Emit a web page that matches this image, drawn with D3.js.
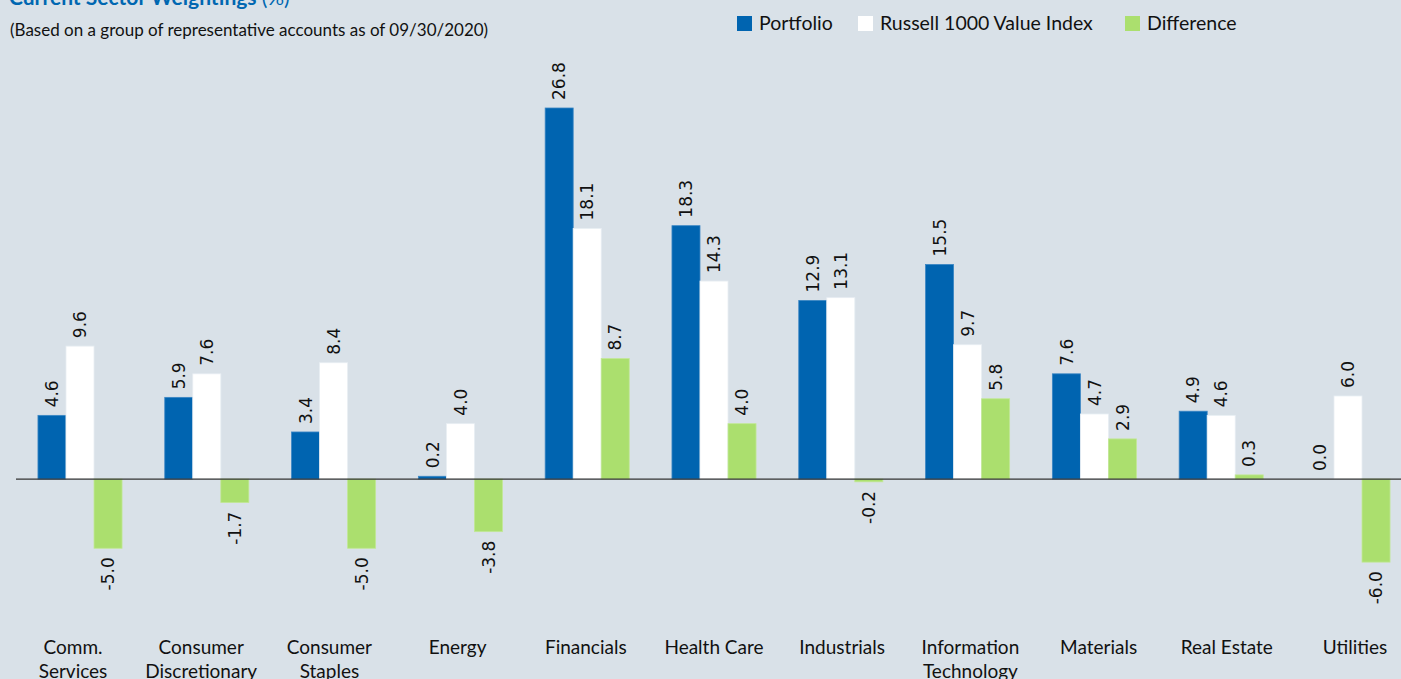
<!DOCTYPE html>
<html>
<head>
<meta charset="utf-8">
<script src="https://cdn.jsdelivr.net/npm/d3@7"></script>
<style>
  html, body { margin: 0; padding: 0; background: #d9e1e8; overflow: hidden; }
</style>
</head>
<body>
<div class="chart"></div>
<script>
// sector names, one entry per group (line breaks with \n)
const sectors = ["Comm.\nServices", "Consumer\nDiscretionary", "Consumer\nStaples", "Energy", "Financials",
    "Health Care", "Industrials", "Information\nTechnology", "Materials", "Real Estate", "Utilities"];
const portfolio = [4.6, 5.9, 3.4, 0.2, 26.8, 18.3, 12.9, 15.5, 7.6, 4.9, 0.0];
const russell = [9.6, 7.6, 8.4, 4.0, 18.1, 14.3, 13.1, 9.7, 4.7, 4.6, 6.0];
const difference = [-5.0, -1.7, -5.0, -3.8, 8.7, 4.0, -0.2, 5.8, 2.9, 0.3, -6.0];
const seriesNames = ["Portfolio", "Russell 1000 Value Index", "Difference"];

const createChart = () => {
    const width = 1401, height = 679;
    const colours = ["#0064b0", "#ffffff", "#abdf6e"];
    const strokes = ["#3a86c4", "#e8eef3", "#c2e896"];
    const labelFont = "'DejaVu Sans', sans-serif";
    const textFont = "Lato, 'Open Sans', sans-serif";

    const svg = d3.select(".chart").append("svg")
        .attr("width", width)
        .attr("height", height);

    //groups along x, one band per sector
    const x = d3.scaleBand()
        .domain(d3.range(sectors.length))
        .range([16.6, 1411.4])
        .paddingInner(0.337)
        .paddingOuter(0.1685);

    //category labels sit on a slightly wider axis than the bars
    const xLabel = d3.scaleBand()
        .domain(d3.range(sectors.length))
        .range([8.9, 1419.1]);

    const xSub = d3.scaleBand()
        .domain(d3.range(seriesNames.length))
        .range([0, x.bandwidth()]);

    const y = d3.scaleLinear()
        .domain([-10, 26.8])
        .range([617.5, 108]);

    const rows = sectors.map((s, i) => ({ i: i, values: [portfolio[i], russell[i], difference[i]] }));

    const group = svg.selectAll("g.sector")
        .data(rows).enter()
        .append("g")
        .attr("class", "sector")
        .attr("transform", d => `translate(${x(d.i)},0)`);

    const cells = group.selectAll("g.cell")
        .data(d => d.values.map((v, k) => ({ v: v, k: k })))
        .enter().append("g")
        .attr("class", "cell");

    cells.append("rect")
        .attr("x", d => xSub(d.k))
        .attr("width", xSub.bandwidth())
        .attr("y", d => y(Math.max(0, d.v)))
        .attr("height", d => Math.abs(y(d.v) - y(0)))
        .attr("fill", d => colours[d.k])
        .attr("stroke", d => d.v === 0 ? "none" : strokes[d.k])
        .attr("stroke-width", 0.8);

    //rotated value labels
    cells.append("text")
        .text(d => d.v.toFixed(1))
        .attr("font-family", labelFont)
        .attr("font-size", 17)
        .attr("fill", "#111")
        .attr("text-anchor", d => d.v >= 0 ? "start" : "end")
        .attr("dy", "0.36em")
        .attr("transform", d => {
            const cx = xSub(d.k) + xSub.bandwidth() / 2;
            const cy = d.v >= 0 ? y(d.v) - 8 : y(d.v) + 9;
            return `translate(${cx},${cy}) rotate(-90)`;
        });

    //zero line
    svg.append("line")
        .attr("x1", 16)
        .attr("x2", width)
        .attr("y1", y(0))
        .attr("y2", y(0))
        .attr("stroke", "#333")
        .attr("stroke-width", 1.3);

    //category labels
    const cat = svg.selectAll("text.cat")
        .data(rows).enter()
        .append("text")
        .attr("class", "cat")
        .attr("x", d => xLabel(d.i) + xLabel.bandwidth() / 2)
        .attr("y", 654)
        .attr("text-anchor", "middle")
        .attr("font-family", textFont)
        .attr("font-size", 19)
        .attr("fill", "#111");

    cat.selectAll("tspan")
        .data(d => sectors[d.i].split("\n"))
        .enter().append("tspan")
        .attr("x", function () { return d3.select(this.parentNode).attr("x"); })
        .attr("dy", (d, j) => j === 0 ? 0 : 24)
        .text(d => d);

    //title
    const title = svg.append("text")
        .attr("x", 9)
        .attr("y", 5)
        .attr("font-family", textFont)
        .attr("font-size", 21)
        .attr("fill", "#0067b1");
    title.append("tspan").attr("font-weight", "bold").text("Current Sector Weightings ");
    title.append("tspan").text("(%)");

    svg.append("text")
        .attr("x", 10)
        .attr("y", 36)
        .attr("font-family", textFont)
        .attr("font-size", 17)
        .attr("fill", "#111")
        .text("(Based on a group of representative accounts as of 09/30/2020)");

    //legend
    const legendX = [737, 858, 1125];
    const legend = svg.selectAll("g.legend")
        .data(seriesNames).enter()
        .append("g")
        .attr("class", "legend")
        .attr("transform", (d, k) => `translate(${legendX[k]},16)`);

    legend.append("rect")
        .attr("width", 15)
        .attr("height", 15)
        .attr("fill", (d, k) => colours[k]);

    legend.append("text")
        .attr("x", 22)
        .attr("y", 14)
        .attr("font-family", textFont)
        .attr("font-size", 19.5)
        .attr("fill", "#111")
        .text(d => d);
};

createChart();
</script>
</body>
</html>
